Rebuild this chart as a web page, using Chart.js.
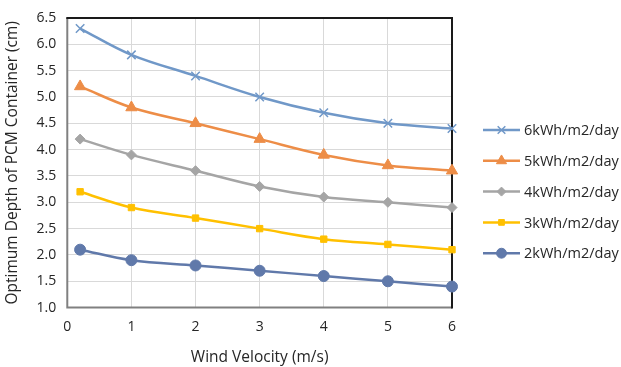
<!DOCTYPE html>
<html>
<head>
<meta charset="utf-8">
<script src="https://cdn.jsdelivr.net/npm/chart.js@4"></script>
<style>
  html, body { margin: 0; padding: 0; background: #fff; }
  #wrap { width: 621px; height: 367px; position: relative; }
</style>
</head>
<body>
<div id="wrap"><canvas id="chart" width="621" height="367"></canvas></div>
<script>
// chart values
const windSpeeds = [0.2, 1, 2, 3, 4, 5, 6];
const seriesNames = ["6kWh/m2/day", "5kWh/m2/day", "4kWh/m2/day", "3kWh/m2/day", "2kWh/m2/day"];
const depth6 = [6.3, 5.8, 5.4, 5.0, 4.7, 4.5, 4.4];
const depth5 = [5.2, 4.8, 4.5, 4.2, 3.9, 3.7, 3.6];
const depth4 = [4.2, 3.9, 3.6, 3.3, 3.1, 3.0, 2.9];
const depth3 = [3.2, 2.9, 2.7, 2.5, 2.3, 2.2, 2.1];
const depth2 = [2.1, 1.9, 1.8, 1.7, 1.6, 1.5, 1.4];

const FONT = "'Open Sans', 'Liberation Sans', sans-serif";
const TEXT = "#262626";

const styles = [
  { color: "#7098c8", point: "crossRot", r: 6 },
  { color: "#ed8d47", point: "triangle", r: 6.5 },
  { color: "#a5a5a5", point: "rectRot", r: 5 },
  { color: "#ffc000", point: "rect", r: 4.5 },
  { color: "#6079aa", point: "circle", r: 5.5 }
];

function toPoints(vals) {
  return vals.map((v, i) => ({ x: windSpeeds[i], y: v }));
}

const allSeries = [depth6, depth5, depth4, depth3, depth2];
const datasets = allSeries.map((vals, i) => ({
  label: seriesNames[i],
  data: toPoints(vals),
  borderColor: styles[i].color,
  backgroundColor: styles[i].color,
  pointStyle: styles[i].point,
  pointRadius: styles[i].r,
  pointBorderWidth: styles[i].point === "crossRot" ? 1.5 : 1,
  borderWidth: 2.5,
  tension: 0.35,
  clip: false
}));

// frame around plot area (dark top/right, grey left/bottom)
const frame = {
  id: "frame",
  beforeDatasetsDraw(chart) {
    const { ctx, chartArea: a } = chart;
    ctx.save();
    ctx.lineWidth = 2;
    ctx.strokeStyle = "#808080";
    ctx.beginPath();
    ctx.moveTo(a.left, a.top);
    ctx.lineTo(a.left, a.bottom);
    ctx.lineTo(a.right, a.bottom);
    ctx.stroke();
    ctx.strokeStyle = "#1a1a1a";
    ctx.beginPath();
    ctx.moveTo(a.left - 1, a.top);
    ctx.lineTo(a.right, a.top);
    ctx.lineTo(a.right, a.bottom + 1);
    ctx.stroke();
    ctx.restore();
  }
};

// Excel-like legend on the right: short line with marker, then label
const sideLegend = {
  id: "sideLegend",
  afterDraw(chart) {
    const ctx = chart.ctx;
    const x0 = 483, x1 = 520, y0 = 130, gap = 30.8;
    chart.data.datasets.forEach((ds, i) => {
      const y = y0 + i * gap;
      ctx.save();
      ctx.strokeStyle = ds.borderColor;
      ctx.fillStyle = ds.backgroundColor;
      ctx.lineWidth = 2.5;
      ctx.beginPath();
      ctx.moveTo(x0, y);
      ctx.lineTo(x1, y);
      ctx.stroke();
      ctx.lineWidth = ds.pointBorderWidth;
      Chart.helpers.drawPoint(ctx, {
        pointStyle: ds.pointStyle,
        radius: ds.pointRadius * 0.9,
        borderWidth: ds.pointBorderWidth
      }, (x0 + x1) / 2, y);
      ctx.fillStyle = TEXT;
      ctx.font = "14.5px " + FONT;
      ctx.textBaseline = "middle";
      ctx.fillText(ds.label, x1 + 4, y + 1);
      ctx.restore();
    });
  }
};

new Chart(document.getElementById("chart"), {
  type: "line",
  data: { datasets },
  options: {
    responsive: false,
    animation: false,
    layout: { padding: { top: -4, right: 169, left: 3, bottom: 0 } },
    plugins: {
      legend: { display: false },
      tooltip: { enabled: false }
    },
    scales: {
      x: {
        type: "linear",
        min: 0,
        max: 6,
        ticks: { stepSize: 1, color: TEXT, font: { family: FONT, size: 14 }, padding: 11 },
        grid: { color: "#d9d9d9", lineWidth: 1, drawTicks: false },
        border: { display: false },
        title: { display: true, text: "Wind Velocity (m/s)", color: TEXT, font: { family: FONT, size: 15.5 }, padding: { top: 2, bottom: 0 } }
      },
      y: {
        min: 1.0,
        max: 6.5,
        ticks: {
          stepSize: 0.5,
          color: TEXT,
          font: { family: FONT, size: 14, lineHeight: 1 },
          padding: 11,
          callback: v => v.toFixed(1)
        },
        grid: { color: "#d9d9d9", lineWidth: 1, drawTicks: false },
        border: { display: false },
        title: { display: true, text: "Optimum Depth of PCM Container (cm)", color: TEXT, font: { family: FONT, size: 15.5 }, padding: { top: 0, bottom: 4 } }
      }
    }
  },
  plugins: [frame, sideLegend]
});
</script>
</body>
</html>
